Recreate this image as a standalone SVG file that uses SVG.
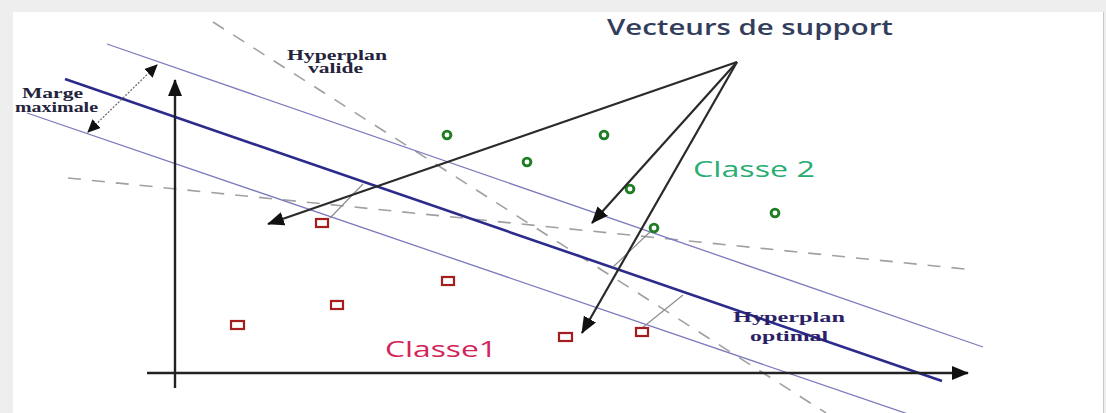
<svg xmlns="http://www.w3.org/2000/svg" width="1106" height="413" viewBox="0 0 1106 413">
<style>
.margin{stroke:#7b7bbd;stroke-width:1.3;fill:none}
.optimal{stroke:#2b2b8c;stroke-width:2.6;fill:none}
.dash{stroke:#a0a0a0;stroke-width:1.6;stroke-dasharray:13 11;fill:none}
.perp{stroke:#8a8a8a;stroke-width:1.1;fill:none}
.axis{stroke:#222;stroke-width:2.4;fill:none}
.sv{stroke:#2a2a2a;stroke-width:2.2;fill:none}
.sq{fill:#fff;stroke:#a51d1d;stroke-width:2.2}
.ci{fill:#fff;stroke:#1f7d23;stroke-width:2.9}
.sans{font-family:"Open Sans","Liberation Sans",sans-serif;font-size:21px}
.serif{font-family:"Liberation Serif","DejaVu Serif",serif;font-size:14px;font-weight:bold}
</style>
<defs>
<marker id="ah" markerUnits="userSpaceOnUse" markerWidth="18" markerHeight="14" refX="16" refY="7" orient="auto">
<path d="M0,0 L17,7 L0,14 z" fill="#111"/>
</marker>
<marker id="ahs" markerUnits="userSpaceOnUse" markerWidth="14" markerHeight="12" refX="12" refY="6" orient="auto-start-reverse">
<path d="M0,0 L13,6 L0,12 z" fill="#111"/>
</marker>
</defs>
<rect x="0" y="0" width="1106" height="413" fill="#eeeeee"/>
<rect x="13" y="12" width="1090" height="401" fill="#ffffff"/>
<line x1="1103.5" y1="12" x2="1103.5" y2="413" stroke="#c8c8c8" stroke-width="1"/>

<g id="hyperplanes">
<line class="dash" x1="213" y1="22" x2="826" y2="413"/>
<line class="dash" x1="68" y1="178" x2="975" y2="270"/>
<line class="margin" x1="107" y1="44" x2="983" y2="347"/>
<line class="margin" x1="27" y1="113" x2="908" y2="414"/>
<line class="optimal" x1="65" y1="79" x2="942" y2="381"/>
<line class="perp" x1="330" y1="218" x2="363" y2="184"/>
<line class="perp" x1="642" y1="328" x2="683" y2="295"/>
<line class="perp" x1="651" y1="231" x2="613" y2="267"/>
</g>

<g id="axes">
<line class="axis" x1="175" y1="388" x2="175" y2="80" marker-end="url(#ah)"/>
<line class="axis" x1="147" y1="373" x2="968" y2="373" stroke="#333" stroke-width="2" marker-end="url(#ah)"/>
</g>

<g id="classe1-points">
<rect class="sq" x="316" y="219" width="12" height="8"/>
<rect class="sq" x="442" y="277" width="12" height="8"/>
<rect class="sq" x="331" y="301" width="12" height="8"/>
<rect class="sq" x="231" y="321" width="13" height="8"/>
<rect class="sq" x="559" y="333" width="13" height="8"/>
<rect class="sq" x="636" y="328" width="12" height="8"/>
</g>

<g id="classe2-points">
<circle class="ci" cx="447" cy="135" r="3.9"/>
<circle class="ci" cx="527" cy="162" r="3.9"/>
<circle class="ci" cx="604" cy="135" r="3.9"/>
<circle class="ci" cx="630" cy="189" r="3.9"/>
<circle class="ci" cx="654" cy="228" r="3.9"/>
<circle class="ci" cx="775" cy="213" r="3.9"/>
</g>

<g id="connectors">
<line class="sv" x1="737" y1="62" x2="268" y2="224" marker-end="url(#ah)"/>
<line class="sv" x1="737" y1="62" x2="592" y2="223" marker-end="url(#ah)"/>
<line class="sv" x1="737" y1="62" x2="582" y2="333" marker-end="url(#ah)"/>
<line x1="157" y1="65" x2="88" y2="132" stroke="#666" stroke-width="1.2" stroke-dasharray="2 1.5" marker-start="url(#ahs)" marker-end="url(#ahs)"/>
</g>

<g id="label-vecteurs">
<text class="sans" x="607" y="35" fill="#333d5c" font-weight="600" textLength="286" lengthAdjust="spacingAndGlyphs">Vecteurs de support</text>
</g>
<g id="label-classe2">
<text class="sans" x="693" y="177" fill="#28ad72" textLength="122" lengthAdjust="spacingAndGlyphs">Classe 2</text>
</g>
<g id="label-classe1">
<text class="sans" x="385" y="357" fill="#d3245a" textLength="112" lengthAdjust="spacingAndGlyphs">Classe1</text>
</g>
<g id="label-hyperplan-valide">
<text class="serif" x="287" y="60" fill="#24243c" textLength="100" lengthAdjust="spacingAndGlyphs">Hyperplan</text>
<text class="serif" x="308" y="73" fill="#24243c" textLength="55" lengthAdjust="spacingAndGlyphs">valide</text>
</g>
<g id="label-marge">
<text class="serif" x="22" y="98" fill="#24243c" textLength="61" lengthAdjust="spacingAndGlyphs">Marge</text>
<text class="serif" x="15" y="112" fill="#24243c" textLength="83" lengthAdjust="spacingAndGlyphs">maximale</text>
</g>
<g id="label-hyperplan-optimal">
<text class="serif" x="733" y="322" fill="#2b1f66" font-size="15" textLength="112" lengthAdjust="spacingAndGlyphs">Hyperplan</text>
<text class="serif" x="750" y="341" fill="#2b1f66" font-size="15" textLength="78" lengthAdjust="spacingAndGlyphs">optimal</text>
</g>
</svg>
